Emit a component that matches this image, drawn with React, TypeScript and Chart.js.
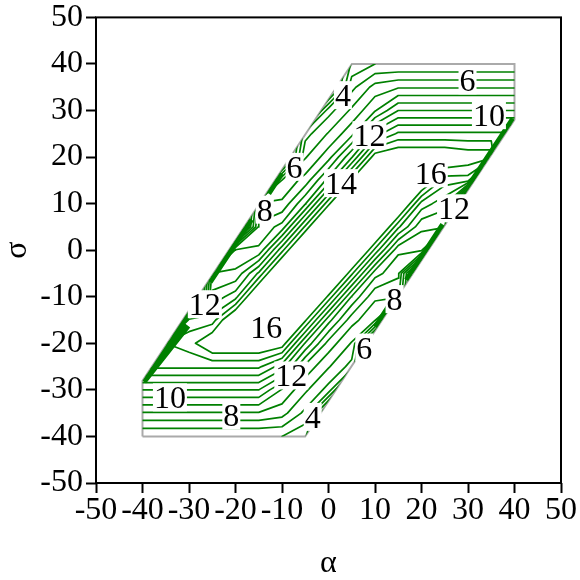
import React, { useEffect, useRef } from "react";
import { Chart, registerables } from "chart.js";

Chart.register(...registerables);

// grid of the field (alpha along columns, sigma along rows, top row = sigma 40)
const alphaGrid = [-40, -35, -30, -25, -20, -15, -10, -5, 0, 5, 10, 15, 20, 25, 30, 35, 40];
const sigmaGrid = [40, 35, 30, 25, 20, 15, 10, 5, 0, -5, -10, -15, -20, -25, -30, -35, -40];
const zGrid = [
  [0, 0, 0, 0, 0, 0, 0, 0, 0, 4.2, 5.0, 5.0, 5.0, 5.0, 5.0, 5.0, 5.0],
  [0, 0, 0, 0, 0, 0, 0, 0, 0, 5.7, 7.4, 7.9, 7.9, 7.9, 7.9, 7.9, 7.9],
  [0, 0, 0, 0, 0, 0, 0, 0, 5.6, 7.2, 8.9, 11.0, 11.0, 11.0, 11.0, 11.0, 11.0],
  [0, 0, 0, 0, 0, 0, 0, 5.6, 7.1, 8.7, 12.5, 14.2, 14.2, 14.2, 14.2, 14.2, 14.2],
  [0, 0, 0, 0, 0, 0, 0, 6.9, 8.6, 11.9, 16.7, 17.3, 17.3, 17.3, 16.8, 16.8, 0],
  [0, 0, 0, 0, 0, 0, 7.1, 8.4, 11.4, 16.2, 20.5, 20.5, 17.9, 14.5, 14.5, 0, 0],
  [0, 0, 0, 0, 0, 8.2, 8.2, 10.9, 15.7, 20.4, 23.2, 18.4, 13.6, 12.3, 0, 0, 0],
  [0, 0, 0, 0, 0, 9.2, 10.4, 15.2, 19.9, 23.7, 18.9, 14.2, 11.2, 11.2, 0, 0, 0],
  [0, 0, 0, 0, 10.2, 10.2, 14.7, 19.4, 24.2, 19.4, 14.7, 10.2, 10.2, 0, 0, 0, 0],
  [0, 0, 0, 11.2, 11.2, 14.2, 18.9, 23.7, 19.9, 15.2, 10.4, 9.2, 0, 0, 0, 0, 0],
  [0, 0, 0, 12.3, 13.6, 18.4, 23.2, 20.4, 15.7, 10.9, 8.2, 8.2, 0, 0, 0, 0, 0],
  [0, 0, 14.5, 14.5, 17.9, 20.5, 20.5, 16.2, 11.4, 8.4, 7.1, 0, 0, 0, 0, 0, 0],
  [0, 15.0, 15.5, 17.3, 17.3, 17.3, 16.7, 11.9, 8.6, 6.9, 0, 0, 0, 0, 0, 0, 0],
  [14.2, 14.2, 14.2, 14.2, 14.2, 14.2, 12.5, 8.7, 7.1, 5.6, 0, 0, 0, 0, 0, 0, 0],
  [11.0, 11.0, 11.0, 11.0, 11.0, 11.0, 8.9, 7.2, 5.6, 0, 0, 0, 0, 0, 0, 0, 0],
  [7.9, 7.9, 7.9, 7.9, 7.9, 7.9, 7.4, 5.7, 0, 0, 0, 0, 0, 0, 0, 0, 0],
  [5.0, 5.0, 5.0, 5.0, 5.0, 5.0, 5.0, 4.2, 0, 0, 0, 0, 0, 0, 0, 0, 0],
];
const contourLevels = [1, 2, 3, 4, 5, 6, 7, 8, 9, 10, 11, 12, 13, 14, 15, 16];

// region boundary (parallelogram)
const domainAlpha = [-40, -5.03, 40, 40, 5.03, -40, -40];
const domainSigma = [-40, -40, 28.04, 40, 40, -28.04, -40];

// stretches of the slanted edges where contour lines pile up (pairs of end points)
const crowdAlpha = [-40, -30.5, -25.8, -16.9, -13.2, -10.4, 40, 30.9, 24.9, 17.1, 13.2, 10.4];
const crowdSigma = [-28.04, -16.0, -6.6, 6.8, 12.4, 16.7, 28.04, 14.3, 5.3, -6.6, -12.4, -16.7];

// contour labels
const labelTexts = ["6", "10", "4", "12", "16", "12", "14", "6", "8", "12", "16", "8", "6", "12", "10", "8", "4"];
const labelAlpha = [29.9, 34.5, 3.1, 8.8, 22.0, 27.0, 2.7, -7.3, -13.7, -26.6, -13.4, 14.2, 7.7, -8.0, -34.1, -20.9, -3.4];
const labelSigma = [36.5, 29.0, 33.3, 24.7, 16.5, 9.0, 14.4, 17.9, 8.7, -11.6, -16.6, -10.5, -20.9, -26.9, -31.6, -35.5, -35.8];

const tickValues = [-50, -40, -30, -20, -10, 0, 10, 20, 30, 40, 50];

type Pt = { x: number; y: number };

function contourLines(level: number): Pt[][] {
  const segs: [Pt, Pt][] = [];
  for (let r = 0; r < sigmaGrid.length - 1; r++) {
    for (let c = 0; c < alphaGrid.length - 1; c++) {
      const P = [
        [alphaGrid[c], sigmaGrid[r + 1], zGrid[r + 1][c]],
        [alphaGrid[c + 1], sigmaGrid[r + 1], zGrid[r + 1][c + 1]],
        [alphaGrid[c + 1], sigmaGrid[r], zGrid[r][c + 1]],
        [alphaGrid[c], sigmaGrid[r], zGrid[r][c]],
      ];
      const above = P.map((p) => p[2] >= level);
      const cross: (Pt | null)[] = [];
      for (let k = 0; k < 4; k++) {
        const a = P[k];
        const b = P[(k + 1) % 4];
        if (above[k] !== above[(k + 1) % 4]) {
          const t = (level - a[2]) / (b[2] - a[2]);
          cross.push({ x: a[0] + t * (b[0] - a[0]), y: a[1] + t * (b[1] - a[1]) });
        } else cross.push(null);
      }
      const idx = [0, 1, 2, 3].filter((k) => cross[k]);
      if (idx.length === 2) {
        segs.push([cross[idx[0]] as Pt, cross[idx[1]] as Pt]);
      } else if (idx.length === 4) {
        const center = (P[0][2] + P[1][2] + P[2][2] + P[3][2]) / 4 >= level;
        if (center === above[0]) {
          segs.push([cross[0] as Pt, cross[1] as Pt]);
          segs.push([cross[2] as Pt, cross[3] as Pt]);
        } else {
          segs.push([cross[3] as Pt, cross[0] as Pt]);
          segs.push([cross[1] as Pt, cross[2] as Pt]);
        }
      }
    }
  }
  const key = (p: Pt) => p.x.toFixed(4) + "," + p.y.toFixed(4);
  const map = new Map<string, number[]>();
  segs.forEach((s, i) => {
    for (const p of s) {
      const k = key(p);
      if (!map.has(k)) map.set(k, []);
      map.get(k)!.push(i);
    }
  });
  const used = new Array(segs.length).fill(false);
  const lines: Pt[][] = [];
  for (let i = 0; i < segs.length; i++) {
    if (used[i]) continue;
    used[i] = true;
    const line: Pt[] = [segs[i][0], segs[i][1]];
    for (let dir = 0; dir < 2; dir++) {
      let ext = true;
      while (ext) {
        ext = false;
        const end = dir === 0 ? line[line.length - 1] : line[0];
        const ek = key(end);
        for (const j of map.get(ek) || []) {
          if (!used[j]) {
            used[j] = true;
            const s = segs[j];
            const nxt = key(s[0]) === ek ? s[1] : s[0];
            if (dir === 0) line.push(nxt);
            else line.unshift(nxt);
            ext = true;
            break;
          }
        }
      }
    }
    lines.push(line);
  }
  return lines;
}

const SERIF = '"Liberation Serif", "Times New Roman", serif';

export default function App() {
  const ref = useRef<HTMLCanvasElement | null>(null);
  useEffect(() => {
    const canvas = ref.current;
    if (!canvas) return;

    const datasets: any[] = contourLevels.map((lv) => {
      const data: Pt[] = [];
      contourLines(lv).forEach((ln) => {
        ln.forEach((p) => data.push(p));
        data.push({ x: NaN, y: NaN });
      });
      return {
        label: "c" + lv,
        data,
        showLine: true,
        spanGaps: false,
        pointRadius: 0,
        borderColor: "#008000",
        borderWidth: 1.7,
        borderCapStyle: "round",
        borderJoinStyle: "round",
        fill: false,
        isContour: true,
      };
    });
    const crowdData: Pt[] = [];
    for (let i = 0; i < crowdAlpha.length; i += 2) {
      crowdData.push({ x: crowdAlpha[i], y: crowdSigma[i] });
      crowdData.push({ x: crowdAlpha[i + 1], y: crowdSigma[i + 1] });
      crowdData.push({ x: NaN, y: NaN });
    }
    datasets.push({
      label: "crowd",
      data: crowdData,
      showLine: true,
      spanGaps: false,
      pointRadius: 0,
      borderColor: "#008000",
      borderWidth: 9,
      borderCapStyle: "butt",
      fill: false,
      isContour: true,
    });
    datasets.push({
      label: "region",
      data: domainAlpha.map((a, i) => ({ x: a, y: domainSigma[i] })),
      showLine: true,
      pointRadius: 0,
      borderColor: "#aaaaaa",
      borderWidth: 2,
      fill: false,
    });

    const clipPlugin = {
      id: "regionClip",
      beforeDatasetDraw(chart: any, args: any) {
        const ds = chart.data.datasets[args.index];
        if (!ds.isContour) return;
        const { ctx, scales } = chart;
        ctx.save();
        ctx.beginPath();
        domainAlpha.forEach((a, i) => {
          const px = scales.x.getPixelForValue(a);
          const py = scales.y.getPixelForValue(domainSigma[i]);
          if (i === 0) ctx.moveTo(px, py);
          else ctx.lineTo(px, py);
        });
        ctx.closePath();
        ctx.clip();
      },
      afterDatasetDraw(chart: any, args: any) {
        const ds = chart.data.datasets[args.index];
        if (!ds.isContour) return;
        chart.ctx.restore();
      },
    };

    const labelPlugin = {
      id: "contourLabels",
      afterDatasetsDraw(chart: any) {
        const { ctx, scales } = chart;
        ctx.save();
        ctx.font = "32px " + SERIF;
        ctx.textAlign = "center";
        ctx.textBaseline = "alphabetic";
        labelTexts.forEach((t, i) => {
          const px = scales.x.getPixelForValue(labelAlpha[i]);
          const py = scales.y.getPixelForValue(labelSigma[i]);
          const w = ctx.measureText(t).width;
          ctx.fillStyle = "#ffffff";
          ctx.fillRect(px - w / 2 - 1, py - 14, w + 2, 28);
          ctx.fillStyle = "#000000";
          ctx.fillText(t, px, py + 11);
        });
        ctx.restore();
      },
    };

    const framePlugin = {
      id: "frame",
      afterDraw(chart: any) {
        const { ctx, chartArea } = chart;
        ctx.save();
        ctx.strokeStyle = "#000";
        ctx.lineWidth = 2;
        ctx.strokeRect(chartArea.left, chartArea.top, chartArea.right - chartArea.left, chartArea.bottom - chartArea.top);
        ctx.restore();
      },
    };

    const tickFont = { family: SERIF, size: 32, lineHeight: 0.9 };
    const titleFont = { family: SERIF, size: 32, lineHeight: 1 };

    const chart = new Chart(canvas, {
      type: "scatter",
      data: { datasets },
      options: {
        animation: false,
        responsive: false,
        devicePixelRatio: 1,
        events: [],
        layout: { padding: { top: 15, right: 18, left: 0, bottom: 0 } },
        plugins: { legend: { display: false }, tooltip: { enabled: false } },
        scales: {
          x: {
            type: "linear",
            min: -50,
            max: 50,
            afterBuildTicks: (scale: any) => {
              scale.ticks = tickValues.map((v) => ({ value: v }));
            },
            afterFit: (scale: any) => {
              scale.height = 97;
            },
            ticks: { autoSkip: false, maxRotation: 0, minRotation: 0, color: "#000", font: tickFont, padding: 3 },
            grid: { display: true, drawOnChartArea: false, drawTicks: true, tickLength: 10, tickColor: "#000", tickWidth: 2 },
            border: { display: false },
            title: { display: true, text: "α", color: "#000", font: titleFont, padding: { top: 0, bottom: 0 } },
          },
          y: {
            type: "linear",
            min: -50,
            max: 50,
            afterBuildTicks: (scale: any) => {
              scale.ticks = tickValues.map((v) => ({ value: v }));
            },
            afterFit: (scale: any) => {
              scale.width = 96;
            },
            ticks: { autoSkip: false, color: "#000", font: tickFont, padding: 3 },
            grid: { display: true, drawOnChartArea: false, drawTicks: true, tickLength: 10, tickColor: "#000", tickWidth: 2 },
            border: { display: false },
            title: { display: true, text: "σ", color: "#000", font: titleFont, padding: { top: 2, bottom: 0 } },
          },
        },
      } as any,
      plugins: [clipPlugin, labelPlugin, framePlugin],
    });
    return () => chart.destroy();
  }, []);

  return (
    <canvas
      ref={ref}
      width={580}
      height={580}
      style={{ position: "absolute", left: 0, top: 0, width: 580, height: 580 }}
    />
  );
}
